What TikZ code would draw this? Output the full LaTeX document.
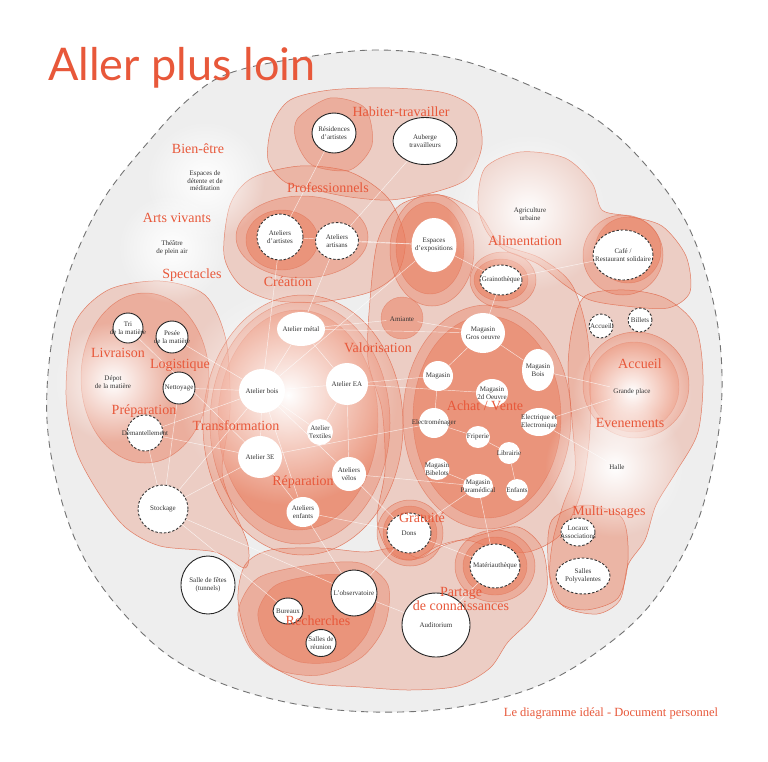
\documentclass[tikz,border=0pt]{standalone}
\usepackage{fontspec}
\setmainfont{Liberation Serif}
\newfontfamily\titlefont{Lato}
\usetikzlibrary{shapes.geometric,fadings}

\definecolor{catred}{RGB}{232,88,58}
\definecolor{salm}{RGB}{234,120,88}
\definecolor{edge}{RGB}{222,100,70}
\definecolor{bgrey}{RGB}{238,238,238}
\tikzfading[name=softglow, inner color=transparent!0, outer color=transparent!100]

\begin{document}
\begin{tikzpicture}[x=1pt,y=-1pt,
    bub/.style={ellipse, fill=white, inner xsep=-12pt, inner ysep=-2pt, align=center,
        font=\fontsize{7}{7.5}\selectfont, text=black!80},
    solidbub/.style={bub, draw=black!85, line width=0.9pt},
    dashbub/.style={bub, draw=black!80, line width=0.9pt, dash pattern=on 2.5pt off 1.8pt},
    spot/.style={bub, draw=none},
    txt/.style={align=center, font=\fontsize{7}{7.5}\selectfont, text=black!80},
    cat/.style={font=\fontsize{14}{14}\selectfont, text=catred, inner sep=0pt},
    blobA/.style={fill=salm, fill opacity=0.28, draw=edge, draw opacity=0.8, line width=0.5pt},
    blobB/.style={fill=salm, fill opacity=0.36, draw=edge, draw opacity=0.6, line width=0.5pt},
    blobC/.style={fill=salm, fill opacity=0.48, draw=edge, draw opacity=0.5, line width=0.4pt},
    glow/.style={fill=white, path fading=softglow},
    wline/.style={white, opacity=0.75, line width=0.45pt}]
\useasboundingbox (0,0) rectangle (768,761);
\fill[white] (0,0) rectangle (768,761);

% fond
\draw[fill=bgrey, draw=black!55, line width=0.9pt, dash pattern=on 7pt off 5pt]
  plot[smooth cycle, tension=0.6] coordinates {(190,98) (230,73) (300,58) (380,50) (460,60) (540,90)
  (600,122) (650,170) (690,230) (715,310) (722,390) (712,470) (690,540) (650,605) (600,650)
  (540,685) (470,705) (400,712) (320,708) (240,690) (175,660) (125,615) (85,560) (60,495)
  (47,420) (52,340) (70,270) (103,200) (150,140)};

% zones claires
\path[blobA] plot[smooth cycle] coordinates {(272,125) (290,100) (330,90) (390,88) (445,93) (475,110)
  (482,145) (468,178) (435,192) (390,200) (350,197) (315,190) (285,182) (268,160)};
\path[blobA] plot[smooth cycle] coordinates {(224,255) (230,205) (252,178) (300,166) (350,172) (388,198)
  (405,238) (398,272) (370,292) (320,302) (272,300) (240,285)};
\path[blobA] plot[smooth cycle] coordinates {(66,395) (74,325) (108,290) (160,281) (205,295) (226,340)
  (230,410) (222,470) (232,505) (248,545) (245,568) (215,552) (160,546) (125,527) (98,492) (76,450)};
\path[blobA] (303,425) ellipse [x radius=100pt, y radius=130pt];
\path[blobA] plot[smooth cycle] coordinates {(370,300) (378,240) (400,205) (440,195) (478,213) (500,243)
  (540,258) (572,285) (588,340) (590,430) (580,495) (560,535) (528,552) (495,548) (465,540)
  (438,546) (412,560) (390,553) (377,520) (385,470) (382,410) (368,360)};
\path[blobA] plot[smooth cycle] coordinates {(478,205) (485,168) (520,152) (565,158) (592,183) (602,210)
  (628,216) (662,226) (686,256) (690,292) (668,308) (625,306) (590,300) (565,285) (538,264)
  (505,250) (487,232)};
\path[blobA] plot[smooth cycle] coordinates {(572,330) (585,296) (625,290) (665,298) (695,325) (703,375)
  (698,432) (676,472) (656,505) (645,540) (628,565) (620,600) (597,614) (563,606) (550,576)
  (553,540) (563,505) (575,470) (572,420) (568,370)};
\path[blobA] plot[smooth cycle] coordinates {(238,600) (245,565) (270,550) (320,548) (365,552) (395,548)
  (420,558) (445,545) (480,535) (518,527) (542,548) (547,588) (532,618) (508,642) (490,668)
  (458,686) (410,690) (360,687) (310,683) (275,668) (250,645)};
\path[blobA] plot[smooth cycle] coordinates {(552,520) (585,505) (622,518) (628,560) (618,598)
  (585,610) (556,600) (548,560)};

% anneaux
\path[blobB] plot[smooth cycle] coordinates {(298,118) (330,98) (365,108) (372,145) (350,170) (312,165) (296,140)};
\path[blobB] (302,237) ellipse [x radius=66pt, y radius=41pt];
\path[blobB] (145,378) ellipse [x radius=64pt, y radius=85pt];
\path[blobB] (300,423) ellipse [x radius=90pt, y radius=121pt];
\path[blobB] (432,250) ellipse [x radius=42pt, y radius=56pt];
\path[blobB] (487,417) ellipse [x radius=84pt, y radius=112pt];
\path[blobB] (623,255) circle (40pt);
\path[blobB] (636,385) circle (53pt);
\path[blobB] (410,533) circle (33pt);
\path[blobB] (495,566) ellipse [x radius=40pt, y radius=36pt];
\path[blobB] (503,280) ellipse [x radius=33pt, y radius=28pt];
\path[blobB] plot[smooth cycle] coordinates {(238,612) (258,578) (310,565) (360,563) (388,585) (385,625)
  (362,657) (320,675) (278,670) (250,648)};

% coeurs
\path[blobC] (282,240) ellipse [x radius=36pt, y radius=30pt];
\path[blobC] (298,420) ellipse [x radius=80pt, y radius=110pt];
\path[blobC] (487,417) ellipse [x radius=74pt, y radius=101pt];
\path[blobC] (402,318) circle (21pt);
\path[blobC] (501,280) ellipse [x radius=27pt, y radius=21pt];
\path[blobC] (634,387) circle (45pt);
\path[blobC] (495,566) ellipse [x radius=32pt, y radius=29pt];
\path[blobC] (410,533) circle (27pt);
\path[blobC] (628,250) circle (33pt);
\path[blobC] (430,248) ellipse [x radius=34pt, y radius=46pt];
\path[blobC] plot[smooth cycle] coordinates {(258,612) (276,585) (320,575) (362,578) (376,600) (366,635)
  (340,660) (300,662) (268,643)};

% halos
\fill[glow] (288,395) circle (110pt);
\fill[glow] (113,382) circle (60pt);
\fill[glow] (528,212) circle (80pt);
\fill[glow] (205,180) circle (60pt);
\fill[glow] (172,248) circle (55pt);
\fill[glow] (632,392) circle (60pt);
\fill[glow] (615,467) circle (70pt);

% lieux
\node[solidbub, minimum width=44pt, minimum height=40pt] (res) at (334,133) {Résidences\\d'artistes};
\node[solidbub, minimum width=64pt, minimum height=47pt] (aub) at (425,141) {Auberge\\travailleurs};
\node[txt] (detente) at (205,181) {Espaces de\\détente et de\\méditation};
\node[txt] (theatre) at (172,248) {Théâtre\\de plein air};
\node[dashbub, minimum width=46pt, minimum height=46pt] (atart) at (280,237) {Ateliers\\d'artistes};
\node[dashbub, minimum width=43pt, minimum height=37pt] (atartis) at (337,241) {Ateliers\\artisans};
\node[spot, minimum width=45pt, minimum height=54pt] (expo) at (434,245) {Espaces\\d'expositions};
\node[txt] (agri) at (530,214) {Agriculture\\urbaine};
\node[dashbub, minimum width=42pt, minimum height=30pt] (graino) at (501,280) {Grainothèque};
\node[dashbub, minimum width=60pt, minimum height=50pt] (cafe) at (623,255) {Café /\\Restaurant solidaire};
\node[dashbub, minimum width=24pt, minimum height=24pt] (accueil) at (601,326) {Accueil};
\node[dashbub, minimum width=24pt, minimum height=24pt] (billets) at (640,320) {Billets};
\node[txt] (grplace) at (632,392) {Grande place};
\node[txt] (halle) at (617,467) {Halle};
\node[dashbub, minimum width=34pt, minimum height=28pt] (locaux) at (578,532) {Locaux\\Associations};
\node[dashbub, minimum width=54pt, minimum height=36pt] (salles) at (583,576) {Salles\\Polyvalentes};

\node[solidbub, minimum width=30pt, minimum height=30pt] (tri) at (128,328) {Tri\\de la matière};
\node[solidbub, minimum width=32pt, minimum height=32pt] (pesee) at (172,337) {Pesée\\de la matière};
\node[txt] (depot) at (113,382) {Dépot\\de la matière};
\node[solidbub, minimum width=32pt, minimum height=32pt] (nettoy) at (179,388) {Nettoyage};
\node[dashbub, minimum width=36pt, minimum height=36pt] (demant) at (145,433) {Démantellement};
\node[dashbub, minimum width=50pt, minimum height=48pt] (stock) at (163,509) {Stockage};
\node[solidbub, minimum width=54pt, minimum height=58pt] (fetes) at (208,585) {Salle de fêtes\\(tunnels)};

\node[spot, minimum width=48pt, minimum height=34pt] (metal) at (301,329) {Atelier métal};
\node[spot, minimum width=46pt, minimum height=44pt] (bois) at (262,391) {Atelier bois};
\node[spot, minimum width=42pt, minimum height=42pt] (ea) at (347,384) {Atelier EA};
\node[spot, minimum width=26pt, minimum height=26pt] (textile) at (320,432) {Atelier\\Textiles};
\node[spot, minimum width=44pt, minimum height=42pt] (trois) at (260,457) {Atelier 3E};
\node[spot, minimum width=34pt, minimum height=34pt] (velos) at (349,474) {Ateliers\\vélos};
\node[spot, minimum width=33pt, minimum height=30pt] (enfants) at (303,512) {Ateliers\\enfants};
\node[txt] (amiante) at (402,319) {Amiante};

\node[spot, minimum width=44pt, minimum height=40pt] (gros) at (483,333) {Magasin\\Gros oeuvre};
\node[spot, minimum width=30pt, minimum height=30pt] (mag) at (438,376) {Magasin};
\node[spot, minimum width=32pt, minimum height=42pt] (magbois) at (538,370) {Magasin\\Bois};
\node[spot, minimum width=32pt, minimum height=28pt] (second) at (492,393) {Magasin\\2d Oeuvre};
\node[spot, minimum width=30pt, minimum height=30pt] (electro) at (434,423) {Electroménager};
\node[spot, minimum width=36pt, minimum height=28pt] (elec) at (539,422) {Electrique et\\Electronique};
\node[spot, minimum width=24pt, minimum height=22pt] (frip) at (478,437) {Friperie};
\node[spot, minimum width=22pt, minimum height=22pt] (libr) at (509,453) {Librairie};
\node[spot, minimum width=25pt, minimum height=22pt] (bibel) at (437,469) {Magasin\\Bibelots};
\node[spot, minimum width=30pt, minimum height=24pt] (param) at (478,486) {Magasin\\Paramédical};
\node[spot, minimum width=22pt, minimum height=22pt] (enf) at (517,490) {Enfants};

\node[dashbub, minimum width=44pt, minimum height=40pt] (dons) at (409,533) {Dons};
\node[dashbub, minimum width=50pt, minimum height=44pt] (materio) at (495,566) {Matériauthèque};
\node[solidbub, minimum width=68pt, minimum height=64pt] (audit) at (436,625) {Auditorium};
\node[solidbub, minimum width=46pt, minimum height=46pt] (observ) at (354,593) {L'observatoire};
\node[solidbub, minimum width=30pt, minimum height=26pt] (bureaux) at (288,611) {Bureaux};
\node[solidbub, minimum width=30pt, minimum height=27pt] (reunion) at (321,643) {Salles de\\réunion};

% reseau
\foreach \a/\b in {bois/metal, bois/ea, bois/trois, bois/velos, bois/enfants, bois/stock, bois/nettoy,
    bois/demant, bois/atart, bois/expo, metal/ea, metal/atartis, metal/gros, ea/mag, ea/velos,
    trois/stock, trois/enfants, velos/dons, enfants/observ, stock/nettoy, stock/demant, stock/observ,
    stock/bureaux, demant/trois, textile/bois, textile/ea, atart/expo, atartis/expo, expo/graino,
    graino/cafe, graino/gros, gros/magbois, gros/mag, mag/electro, electro/frip, frip/libr, libr/enf,
    param/bibel, param/dons, dons/materio, materio/audit, materio/param, elec/grplace, magbois/grplace,
    elec/halle, audit/observ, observ/dons, aub/atartis, res/atart, amiante/metal, amiante/gros,
    pesee/bois, tri/trois, electro/trois, second/ea, enfants/dons, velos/param}
  \draw[wline] (\a) -- (\b);

% categories
\node[cat] (habiter) at (401,112) {Habiter-travailler};
\node[cat] (bienetre) at (198,149) {Bien-être};
\node[cat] (pro) at (328,188) {Professionnels};
\node[cat] (arts) at (177,218) {Arts vivants};
\node[cat] (spect) at (192,275) {Spectacles};
\node[cat] (creation) at (288,282) {Création};
\node[cat] (alim) at (525,241) {Alimentation};
\node[cat] (livr) at (118,353) {Livraison};
\node[cat] (logis) at (180,365) {Logistique};
\node[cat] (prepa) at (144,411) {Préparation};
\node[cat] (transfo) at (236,426) {Transformation};
\node[cat] (valo) at (378,348) {Valorisation};
\node[cat] (achat) at (485,406) {Achat / Vente};
\node[cat] (repa) at (303,482) {Réparation};
\node[cat] (acc) at (640,364) {Accueil};
\node[cat] (even) at (630,423) {Evenements};
\node[cat] (multi) at (609,512) {Multi-usages};
\node[cat] (grat) at (422,518) {Gratuité};
\node[cat, align=center] (partage) at (461,599) {Partage\\de connaissances};
\node[cat] (rech) at (318,621) {Recherches};

\node[anchor=base west, inner sep=0pt, text=catred, font=\titlefont\fontsize{45}{45}\selectfont] (titre) at (48,80) {Aller plus loin};
\node[text=catred, font=\fontsize{12.5}{13}\selectfont] (pied) at (611,713) {Le diagramme idéal - Document personnel};
\end{tikzpicture}
\end{document}
